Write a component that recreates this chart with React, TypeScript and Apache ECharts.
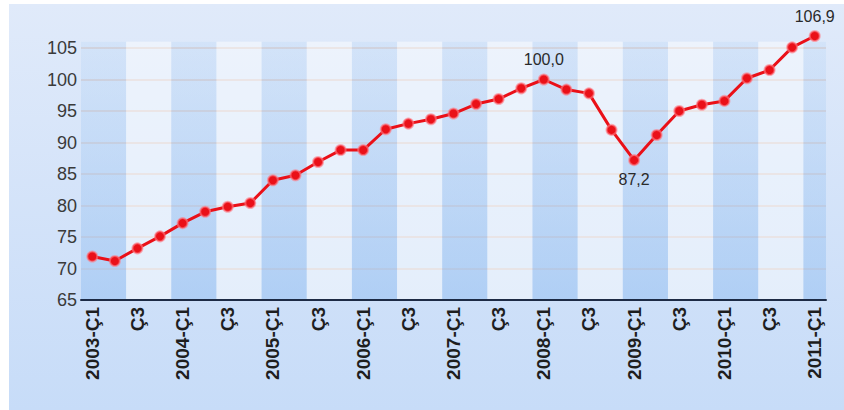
import React, { useEffect, useRef } from "react";
import * as echarts from "echarts";

const categories = [
  "2003-Ç1", "Ç2", "Ç3", "Ç4",
  "2004-Ç1", "Ç2", "Ç3", "Ç4",
  "2005-Ç1", "Ç2", "Ç3", "Ç4",
  "2006-Ç1", "Ç2", "Ç3", "Ç4",
  "2007-Ç1", "Ç2", "Ç3", "Ç4",
  "2008-Ç1", "Ç2", "Ç3", "Ç4",
  "2009-Ç1", "Ç2", "Ç3", "Ç4",
  "2010-Ç1", "Ç2", "Ç3", "Ç4",
  "2011-Ç1",
];

const values = [
  71.9, 71.2, 73.2, 75.1,
  77.2, 79.0, 79.8, 80.4,
  84.0, 84.8, 86.9, 88.8,
  88.8, 92.1, 93.0, 93.7,
  94.6, 96.1, 96.9, 98.6,
  100.0, 98.4, 97.8, 92.0,
  87.2, 91.2, 95.0, 96.0,
  96.6, 100.2, 101.5, 105.1,
  106.9,
];

// indices that carry a value label, and where
const labelledTop = [20, 32];
const labelledBottom = [24];

const fmt = (v: number) => v.toFixed(1).replace(".", ",");

export default function App() {
  const ref = useRef<HTMLDivElement>(null);
  useEffect(() => {
    if (!ref.current) return;
    const chart = echarts.init(ref.current, null, { renderer: "svg" });
    const seriesData = values.map((v, i) => {
      if (labelledTop.includes(i)) {
        return { value: v, label: { show: true, position: "top", distance: 6 } };
      }
      if (labelledBottom.includes(i)) {
        return { value: v, label: { show: true, position: "bottom", distance: 5 } };
      }
      return { value: v };
    });
    chart.setOption({
      animation: false,
      backgroundColor: "#ffffff",
      graphic: [
        {
          type: "rect",
          z: -10,
          silent: true,
          shape: { x: 9, y: 4, width: 835, height: 406 },
          style: {
            fill: new echarts.graphic.LinearGradient(0, 0, 0, 1, [
              { offset: 0, color: "#e0eafa" },
              { offset: 1, color: "#c7dcf8" },
            ]),
          },
        },
      ],
      grid: {
        left: 81,
        right: 18,
        top: 41.7,
        bottom: 110,
        show: true,
        borderWidth: 0,
        backgroundColor: new echarts.graphic.LinearGradient(0, 0, 0, 1, [
          { offset: 0, color: "#e4edfb" },
          { offset: 1, color: "#d6e5f9" },
        ]),
      },
      xAxis: {
        type: "category",
        data: categories,
        boundaryGap: true,
        axisLine: { show: true, lineStyle: { color: "#1d2b45", width: 2 } },
        axisTick: { show: false },
        axisLabel: {
          interval: 1,
          rotate: 90,
          margin: 7,
          color: "#1e1e1e",
          fontWeight: "bold",
          fontSize: 19,
          fontFamily: "Liberation Sans, Arial, sans-serif",
        },
        splitLine: { show: false },
        splitArea: {
          show: true,
          interval: 1,
          areaStyle: {
            color: [
              new echarts.graphic.LinearGradient(0, 0, 0, 1, [
                { offset: 0, color: "rgba(160,198,242,0.25)" },
                { offset: 1, color: "rgba(150,192,242,0.6)" },
              ]),
              "rgba(250,252,255,0.4)",
            ],
          },
        },
      },
      yAxis: {
        type: "value",
        min: 65,
        max: 106,
        interval: 5,
        axisLine: { show: false },
        axisTick: { show: false },
        axisLabel: {
          margin: 4,
          color: "#3a3a3a",
          fontSize: 18,
          fontFamily: "Liberation Sans, Arial, sans-serif",
          formatter: (v: number) => (v % 5 === 0 ? String(v) : ""),
        },
        splitLine: {
          show: true,
          showMaxLine: false,
          lineStyle: { color: "rgba(226,200,190,0.8)", width: 1.5 },
        },
      },
      series: [
        {
          type: "line",
          data: seriesData,
          clip: false,
          symbol: "circle",
          symbolSize: 10,
          lineStyle: { color: "#ea1018", width: 3 },
          itemStyle: {
            color: "#ea1018",
            borderColor: "rgba(255,120,130,0.6)",
            borderWidth: 2,
          },
          label: {
            show: false,
            color: "#2a2a2a",
            fontSize: 16,
            fontFamily: "Liberation Sans, Arial, sans-serif",
            formatter: (p: any) => fmt(p.value),
          },
          z: 5,
        },
      ],
    });
    return () => chart.dispose();
  }, []);
  return (
    <div
      ref={ref}
      style={{ position: "fixed", left: 0, top: 0, width: 844, height: 410 }}
    />
  );
}
